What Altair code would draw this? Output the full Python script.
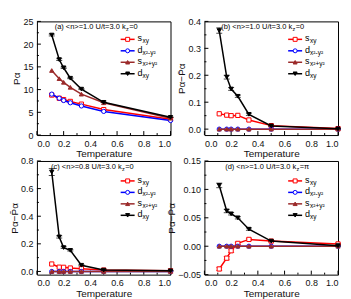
import altair as alt
import pandas as pd

# ---------------- data ----------------
T = [0.111, 0.167, 0.2, 0.25, 0.333, 0.5, 1.0]
SERIES = ["sxy", "dx2y2", "sx2y2", "dxy"]
COLORS = ["#ff0000", "#0000ff", "#9b2a2a", "#000000"]
FILLS = ["white", "white", "#9b2a2a", "#000000"]
SHAPES = ["square", "circle", "triangle-up", "triangle-down"]
LEG_MAIN = ["s", "d", "s", "d"]
LEG_SUB = ["xy", "x²-y²", "x²+y²", "xy"]

# panel (a)  P_alpha
a_sxy = [8.8, 8.1, 7.8, 7.4, 6.8, 5.6, 3.5]
a_dx2y2 = [9.0, 8.1, 7.6, 7.1, 6.4, 5.2, 3.2]
a_sx2y2 = [14.2, 12.4, 11.6, 10.5, 9.0, 7.1, 3.7]
a_dxy = [22.0, 16.6, 14.8, 12.5, 10.1, 7.2, 3.9]
a_err_dxy = [0.2, 0.2, 0.15, 0.1, 0.1, 0.05, 0.05]

# panel (b)
b_sxy = [0.057, 0.052, 0.050, 0.051, 0.034, 0.013, 0.002]
b_dx2y2 = [0.0, 0.0, 0.0, 0.0, 0.0, 0.0, 0.0]
b_sx2y2 = [0.0, 0.0, 0.0, 0.0, 0.0, 0.0, 0.0]
b_dxy = [0.366, 0.193, 0.149, 0.122, 0.055, 0.012, 0.001]
b_err_dxy = [0.010, 0.007, 0.005, 0.004, 0.004, 0.002, 0.001]

# panel (c)
c_sxy = [0.054, 0.031, 0.030, 0.025, 0.020, 0.010, 0.005]
c_dx2y2 = [0.0, 0.0, 0.0, 0.0, 0.0, 0.0, 0.0]
c_sx2y2 = [0.0, 0.0, 0.0, 0.0, 0.0, 0.0, 0.0]
c_dxy = [0.720, 0.250, 0.173, 0.153, 0.045, 0.010, 0.005]
c_err_dxy = [0.025, 0.008, 0.006, 0.005, 0.004, 0.002, 0.001]

# panel (d)
d_sxy = [-0.040, -0.021, -0.008, 0.005, 0.012, 0.009, 0.004]
d_dx2y2 = [0.0, 0.0, 0.0, 0.0, 0.0, 0.0, 0.0]
d_sx2y2 = [0.0, 0.0, 0.0, 0.0, 0.0, 0.0, 0.0]
d_dxy = [0.107, 0.062, 0.057, 0.050, 0.030, 0.009, 0.001]
d_err_dxy = [0.004, 0.003, 0.002, 0.002, 0.002, 0.001, 0.001]
d_err_sxy = [0.003, 0.003, 0.003, 0.002, 0.002, 0.001, 0.001]

X_MAJOR = [0.0, 0.2, 0.4, 0.6, 0.8, 1.0]
X_MINOR = [0.1, 0.3, 0.5, 0.7, 0.9]

PANELS = [
    dict(label="(a)", n="1.0", kz="0", vals=[a_sxy, a_dx2y2, a_sx2y2, a_dxy],
         errs=[None, None, None, a_err_dxy], dom=[0, 25],
         ymaj=[0, 5, 10, 15, 20, 25], ymin=[2.5, 7.5, 12.5, 17.5, 22.5], fmt="d",
         ytitle="Pα", tx=16, leg0=18),
    dict(label="(b)", n="1.0", kz="0", vals=[b_sxy, b_dx2y2, b_sx2y2, b_dxy],
         errs=[None, None, None, b_err_dxy], dom=[-0.022, 0.4],
         ymaj=[0.0, 0.1, 0.2, 0.3, 0.4], ymin=[0.05, 0.15, 0.25, 0.35], fmt=".1f",
         ytitle="Pα−P̄α", tx=15, leg0=18),
    dict(label="(c)", n="0.8", kz="0", vals=[c_sxy, c_dx2y2, c_sx2y2, c_dxy],
         errs=[None, None, None, c_err_dxy], dom=[-0.023, 0.8],
         ymaj=[0.0, 0.2, 0.4, 0.6, 0.8], ymin=[0.1, 0.3, 0.5, 0.7], fmt=".1f",
         ytitle="Pα−P̄α", tx=12, leg0=20),
    dict(label="(d)", n="1.0", kz="π", vals=[d_sxy, d_dx2y2, d_sx2y2, d_dxy],
         errs=[d_err_sxy, None, None, d_err_dxy], dom=[-0.05, 0.15],
         ymaj=[-0.05, 0.0, 0.05, 0.10, 0.15], ymin=[-0.025, 0.025, 0.075, 0.125], fmt=".2f",
         ytitle="Pα−P̄α", tx=19, leg0=20),
]

W, H = 134, 114
FONT = "Liberation Sans"
one = pd.DataFrame({"k": [0]})


def make_panel(p):
    xs = alt.Scale(domain=[0, 1], nice=False, zero=False)
    ys = alt.Scale(domain=p["dom"], nice=False, zero=False)
    xax = alt.Axis(values=X_MAJOR, format=".1f", title="Temperature", titleFontWeight="normal")
    yax = alt.Axis(values=p["ymaj"], format=p["fmt"], title=p["ytitle"], titleFontWeight="normal")

    def X(f):
        return alt.X(f, scale=xs, axis=xax)

    def Y(f):
        return alt.Y(f, scale=ys, axis=yax)

    layers = []

    # inward ticks
    layers.append(alt.Chart(pd.DataFrame({"t": X_MAJOR})).mark_rule(color="black", strokeWidth=1).encode(
        x=X("t:Q"), y=alt.value(H), y2=alt.value(H - 4)))
    layers.append(alt.Chart(pd.DataFrame({"t": X_MINOR})).mark_rule(color="black", strokeWidth=1).encode(
        x=X("t:Q"), y=alt.value(H), y2=alt.value(H - 2)))
    layers.append(alt.Chart(pd.DataFrame({"t": p["ymaj"]})).mark_rule(color="black", strokeWidth=1).encode(
        y=Y("t:Q"), x=alt.value(0), x2=alt.value(4)))
    layers.append(alt.Chart(pd.DataFrame({"t": p["ymin"]})).mark_rule(color="black", strokeWidth=1).encode(
        y=Y("t:Q"), x=alt.value(0), x2=alt.value(2)))

    for i, s in enumerate(SERIES):
        vals = p["vals"][i]
        err = p["errs"][i] or [0.0] * len(T)
        df = pd.DataFrame({"T": T, "v": vals, "lo": [v - e for v, e in zip(vals, err)],
                           "hi": [v + e for v, e in zip(vals, err)], "e": err})
        layers.append(alt.Chart(df).mark_line(color=COLORS[i], strokeWidth=1.5).encode(x=X("T:Q"), y=Y("v:Q")))
        if p["errs"][i] is not None:
            edf = df[df["e"] > 0]
            layers.append(alt.Chart(edf).mark_rule(color=COLORS[i], strokeWidth=1).encode(
                x=X("T:Q"), y=Y("lo:Q"), y2="hi:Q"))
            for col in ["lo", "hi"]:
                layers.append(alt.Chart(edf).mark_tick(color=COLORS[i], orient="horizontal", size=6, thickness=1).encode(
                    x=X("T:Q"), y=Y(f"{col}:Q")))
        layers.append(alt.Chart(df).mark_point(shape=SHAPES[i], filled=True, fill=FILLS[i], stroke=COLORS[i],
                                               strokeWidth=1, size=18, opacity=1).encode(
            x=X("T:Q"), y=Y("v:Q")))

    # legend
    lx0, lx1, ltx = 84, 98, 101
    for i in range(4):
        yy = p["leg0"] + i * 11.5
        layers.append(alt.Chart(one).mark_rule(color=COLORS[i], strokeWidth=1.5).encode(
            x=alt.value(lx0), x2=alt.value(lx1), y=alt.value(yy)))
        layers.append(alt.Chart(one).mark_point(shape=SHAPES[i], filled=True, fill=FILLS[i], stroke=COLORS[i],
                                                strokeWidth=1, size=16, opacity=1).encode(
            x=alt.value((lx0 + lx1) / 2), y=alt.value(yy)))
        layers.append(alt.Chart(one).mark_text(text=LEG_MAIN[i], font=FONT, fontSize=9, align="left",
                                               baseline="middle", color="black").encode(
            x=alt.value(ltx), y=alt.value(yy - 1)))
        layers.append(alt.Chart(one).mark_text(text=LEG_SUB[i], font=FONT, fontSize=6.5, align="left",
                                               baseline="middle", color="black").encode(
            x=alt.value(ltx + 5), y=alt.value(yy + 2)))

    # panel title
    tx = p["tx"]
    pre = f"{p['label']} <n>={p['n']}  U/t=3.0  k"
    layers.append(alt.Chart(one).mark_text(text=pre, font=FONT, fontSize=7.5, align="right",
                                           baseline="middle", color="black").encode(
        x=alt.value(tx + 73), y=alt.value(6)))
    layers.append(alt.Chart(one).mark_text(text="z", font=FONT, fontSize=5.5, align="left",
                                           baseline="middle", color="black").encode(
        x=alt.value(tx + 73.3), y=alt.value(8)))
    layers.append(alt.Chart(one).mark_text(text="=" + p["kz"], font=FONT, fontSize=7.5, align="left",
                                           baseline="middle", color="black").encode(
        x=alt.value(tx + 76.5), y=alt.value(6)))

    return alt.layer(*layers).properties(width=W, height=H)


chart = alt.concat(*[make_panel(p) for p in PANELS], columns=2,
                   spacing={"row": 26, "column": 34}, bounds="flush").properties(
    padding={"left": 0, "top": 8, "right": 0, "bottom": 0}
).configure_view(stroke="black", strokeWidth=1).configure_axis(
    labelFont=FONT, labelFontSize=9, labelColor="#111111", titleFont=FONT, titleFontSize=10,
    titleFontWeight="normal", titleColor="#111111", ticks=False, domain=False, grid=False,
    labelPadding=4, titlePadding=1
)

chart.save("out.html", embed_options={"renderer": "svg", "actions": False})
